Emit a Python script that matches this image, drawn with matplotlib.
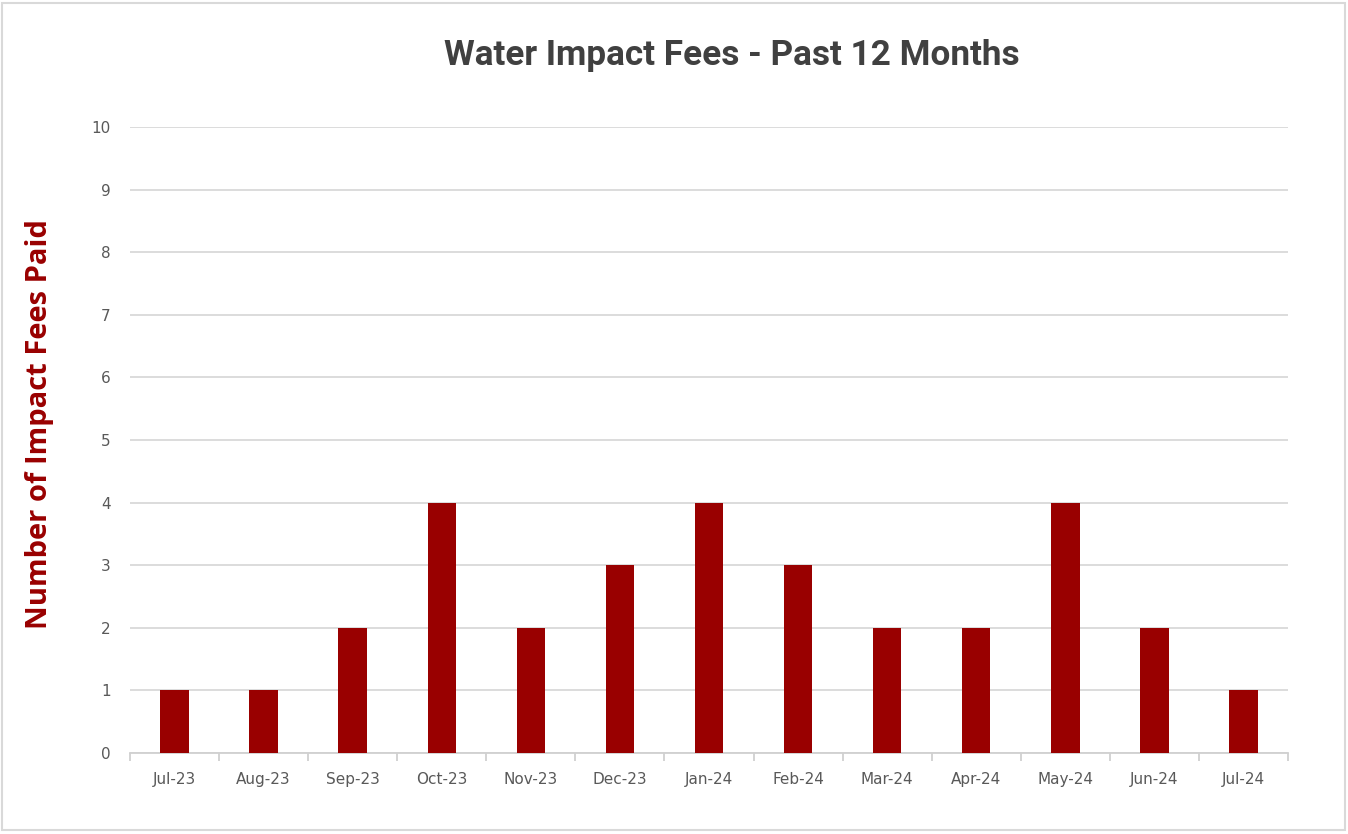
import matplotlib
matplotlib.use("Agg")
import matplotlib.pyplot as plt
from matplotlib.patches import Rectangle
import numpy as np

months = ["Jul-23", "Aug-23", "Sep-23", "Oct-23", "Nov-23", "Dec-23", "Jan-24",
          "Feb-24", "Mar-24", "Apr-24", "May-24", "Jun-24", "Jul-24"]
fees_paid = [1, 1, 2, 4, 2, 3, 4, 3, 2, 2, 4, 2, 1]
y_ticks = list(range(0, 11))

title = "Water Impact Fees - Past 12 Months"
ylabel = "Number of Impact Fees Paid"

fig = plt.figure(figsize=(13.48, 8.34), dpi=100)
ax = fig.add_axes([130/1348, 1-753/834, 1158/1348, 626/834])

x = np.arange(len(months))
ax.bar(x, fees_paid, width=0.32, color="#990000", zorder=3)

ax.set_xlim(-0.5, len(months) - 0.5)
ax.set_ylim(0, 10)
ax.set_yticks(y_ticks)
ax.set_xticks(x)
ax.set_xticklabels(months)
ax.set_xticks(np.arange(-0.5, len(months)), minor=True)

ax.grid(axis="y", color="#d9d9d9", linewidth=1.3, zorder=0)
for s in ["top", "right", "left"]:
    ax.spines[s].set_visible(False)
ax.spines["bottom"].set_color("#d0d0d0")
ax.spines["bottom"].set_linewidth(1.3)

ax.tick_params(axis="y", length=0, pad=14, labelsize=11, labelcolor="#595959")
ax.tick_params(axis="x", which="major", length=0, pad=14, labelsize=11, labelcolor="#595959")
ax.tick_params(axis="x", which="minor", length=6, width=1.3, color="#d0d0d0")

fig.text(732/1348, 1-56/834, title, ha="center", va="center",
         fontsize=25.3, fontweight="bold", color="#404040",
         family=["Roboto", "DejaVu Sans"])
fig.text(40/1348, 1-424/834, ylabel, ha="center", va="center", rotation=90,
         fontsize=21, fontweight="bold", color="#990000",
         family=["Open Sans", "DejaVu Sans"])

fig.patches.append(Rectangle((2/1348, 4/834), 1343/1348, 827/834, transform=fig.transFigure,
                             fill=False, edgecolor="#d9d9d9", linewidth=1.5))

fig.savefig("out.png", dpi=100)
